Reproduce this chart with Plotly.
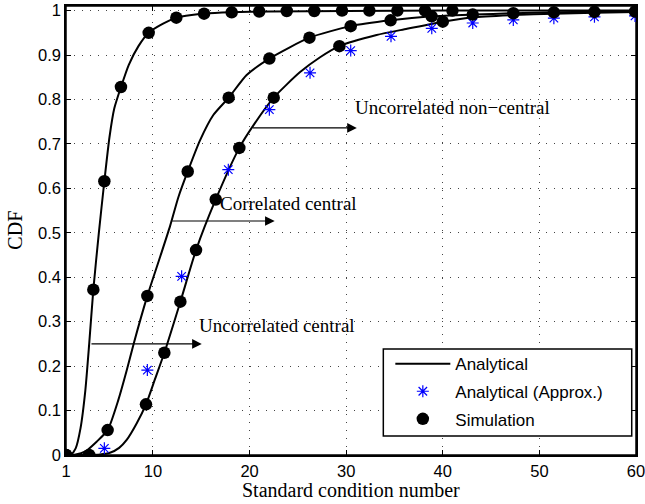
import plotly.graph_objects as go

# ---------------- data ----------------
# Analytical curves
uc_x = [1, 1.5, 2.0, 2.5, 3.0, 3.4, 3.83, 4.4, 4.97, 5.5, 6.0, 6.69, 7.5, 8.5, 9.56, 11, 12.42, 14, 15.29, 18, 22, 30, 40, 60]
uc_y = [0, 0.001, 0.015, 0.06, 0.145, 0.25, 0.372, 0.50, 0.616, 0.715, 0.78, 0.828, 0.878, 0.92, 0.950, 0.970, 0.984, 0.990, 0.993, 0.996, 0.998, 0.999, 1.0, 1.0]

cc_x = [1, 2, 3, 4.17, 5.31, 6.42, 7.28, 8.0, 9.42, 10.73, 11.77, 12.63, 13.6, 14.87, 16.25, 17.84, 19.7, 22.05, 26.2, 30.47, 34.6, 38.85, 43.1, 47.3, 51.5, 55.7, 60]
cc_y = [0, 0.001, 0.008, 0.03, 0.056, 0.124, 0.19, 0.25, 0.358, 0.445, 0.515, 0.58, 0.638, 0.708, 0.765, 0.804, 0.855, 0.892, 0.939, 0.965, 0.978, 0.987, 0.991, 0.994, 0.996, 0.997, 0.998]

unc_x = [1, 3.4, 4.5, 5.55, 6.5, 7.28, 8.31, 9.28, 10.2, 11.18, 12.84, 14.46, 16.5, 18.94, 20.5, 22.5, 25.2, 27.3, 29.3, 33.15, 36.3, 40.0, 43.1, 47.3, 51.5, 55.7, 60]
unc_y = [0, 0, 0.001, 0.005, 0.016, 0.034, 0.071, 0.114, 0.17, 0.23, 0.345, 0.461, 0.575, 0.691, 0.745, 0.804, 0.861, 0.895, 0.920, 0.945, 0.959, 0.975, 0.985, 0.990, 0.993, 0.995, 0.997]

# Approximation (asterisks) for uncorrelated non-central
apx_x = [4.97, 9.42, 12.97, 17.8, 22.05, 26.26, 30.47, 34.64, 38.86, 43.1, 47.3, 51.5, 55.7, 59.9]
apx_y = [0.015, 0.191, 0.402, 0.642, 0.777, 0.860, 0.910, 0.942, 0.960, 0.972, 0.979, 0.983, 0.986, 0.988]

# Simulation points
s_uc_x = [1, 3.83, 4.97, 6.69, 9.56, 12.42, 15.29, 18.15, 21.0, 23.85, 26.7, 29.57, 32.4, 35.3, 38.16, 41.0]
s_uc_y = [0, 0.372, 0.616, 0.828, 0.950, 0.984, 0.993, 0.996, 0.998, 0.999, 0.999, 1.0, 1.0, 1.0, 1.0, 1.0]

s_cc_x = [1, 5.31, 9.42, 13.6, 17.84, 22.05, 26.2, 30.47, 34.6, 38.85, 43.1, 47.3, 51.5, 55.7, 59.9]
s_cc_y = [0, 0.056, 0.358, 0.638, 0.804, 0.892, 0.939, 0.965, 0.978, 0.987, 0.991, 0.994, 0.996, 0.997, 0.998]

s_unc_x = [3.4, 9.28, 11.18, 12.84, 14.46, 16.5, 18.94, 22.5, 29.3, 40.0]
s_unc_y = [0, 0.114, 0.23, 0.345, 0.461, 0.575, 0.691, 0.804, 0.920, 0.975]

x_ticks = [1, 10, 20, 30, 40, 50, 60]
y_ticks = [0, 0.1, 0.2, 0.3, 0.4, 0.5, 0.6, 0.7, 0.8, 0.9, 1]

# annotation labels: (text, x, y) and arrows: (tail x, tail y, head x)
labels = [("Uncorrelated non\u2212central", 41.0, 0.782),
          ("Correlated central", 24.0, 0.565),
          ("Uncorrelated central", 22.85, 0.292)]
arrows = [(20.2, 0.736, 31.1),
          (11.84, 0.5265, 22.6),
          (3.48, 0.25, 15.05)]

SANS = "Liberation Sans, Arial, Helvetica, sans-serif"
SERIF = "Liberation Serif, Times New Roman, serif"

fig = go.Figure()

line_style = dict(color="black", width=2)
for i, (xs, ys) in enumerate([(uc_x, uc_y), (cc_x, cc_y), (unc_x, unc_y)]):
    fig.add_trace(go.Scatter(x=xs, y=ys, mode="lines", line=dict(shape="spline", smoothing=0.6, **line_style),
                             name="Analytical", legendgroup="a", showlegend=(i == 0)))

fig.add_trace(go.Scatter(x=apx_x, y=apx_y, mode="markers",
                         marker=dict(symbol="asterisk-open", size=10, color="blue", line=dict(color="blue", width=1.2)),
                         name="Analytical (Approx.)", legendgroup="b"))

for i, (xs, ys) in enumerate([(s_uc_x, s_uc_y), (s_cc_x, s_cc_y), (s_unc_x, s_unc_y)]):
    fig.add_trace(go.Scatter(x=xs, y=ys, mode="markers",
                             marker=dict(symbol="circle", size=12.5, color="black"),
                             name="Simulation", legendgroup="c", showlegend=(i == 0)))

for text, x, y in labels:
    fig.add_annotation(x=x, y=y, xref="x", yref="y", text=text, showarrow=False,
                       font=dict(family=SERIF, size=19, color="black"), xanchor="center", yanchor="middle")
for tx, ty, hx in arrows:
    fig.add_annotation(x=hx, y=ty, ax=tx, ay=ty, xref="x", yref="y", axref="x", ayref="y",
                       text="", showarrow=True, arrowhead=2, arrowsize=1.6, arrowwidth=1.2,
                       arrowcolor="black", standoff=0, startstandoff=0)

# axis titles
fig.add_annotation(x=0.5, y=-0.077, xref="paper", yref="paper", text="Standard condition number",
                   showarrow=False, font=dict(family=SERIF, size=20, color="black"), yanchor="middle")
fig.add_annotation(x=-0.091, y=0.5, xref="paper", yref="paper", text="CDF", textangle=-90,
                   showarrow=False, font=dict(family=SERIF, size=20, color="black"), xanchor="center")

# plot frame and legend frame
fig.add_shape(type="rect", xref="paper", yref="paper", x0=0, x1=1, y0=0, y1=1,
              line=dict(color="black", width=1.5), fillcolor="rgba(0,0,0,0)", layer="below")
fig.add_shape(type="rect", xref="paper", yref="paper", x0=0.5567, x1=0.9925, y0=0.0423, y1=0.2359,
              line=dict(color="black", width=1.5), fillcolor="white", layer="above")

axis_common = dict(showline=True, linecolor="black", linewidth=1.5, mirror="ticks",
                   ticks="inside", ticklen=5, tickcolor="black", tickwidth=1,
                   showgrid=True, gridcolor="#444", gridwidth=1, griddash="1px,7px",
                   zeroline=False, automargin=False, ticklabeloverflow="allow",
                   tickfont=dict(family=SANS, size=16.5, color="black"))

fig.update_xaxes(range=[1, 60], tickvals=x_ticks, ticktext=[str(v) for v in x_ticks], **axis_common)
fig.update_yaxes(range=[0, 1.0103], tickvals=y_ticks, ticktext=[("%g" % v) for v in y_ticks], **axis_common)

fig.update_layout(
    width=645, height=504,
    margin=dict(l=66, r=9, t=6, b=49),
    plot_bgcolor="white", paper_bgcolor="white",
    legend=dict(x=0.569, y=0.2425, xanchor="left", yanchor="top",
                bgcolor="rgba(0,0,0,0)", borderwidth=0,
                font=dict(family=SANS, size=17, color="black"),
                traceorder="grouped", tracegroupgap=2.5, itemwidth=55),
)

fig.write_html("out.html", config={"displayModeBar": False},
               post_script="document.body.style.margin='0';document.body.style.padding='0';")
